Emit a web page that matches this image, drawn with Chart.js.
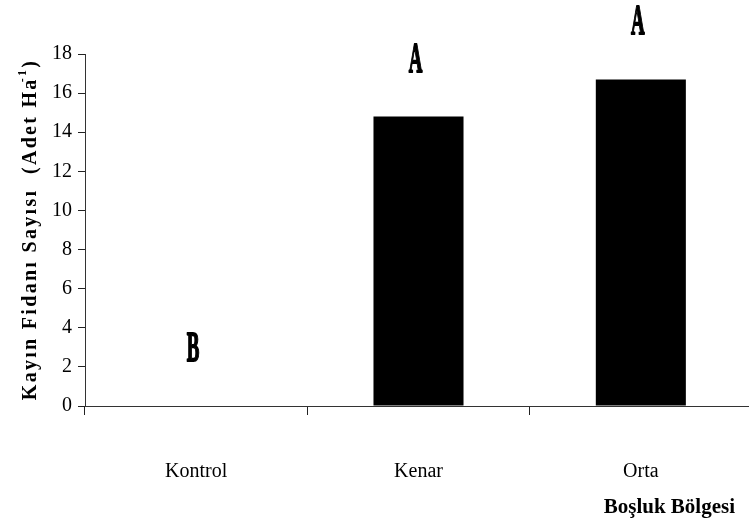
<!DOCTYPE html>
<html>
<head>
<meta charset="utf-8">
<script src="https://cdn.jsdelivr.net/npm/chart.js@4/dist/chart.umd.min.js"></script>
<style>
  html, body { margin: 0; padding: 0; background: #fff; overflow: hidden; }
  #wrap { position: relative; width: 752px; height: 521px; }
</style>
</head>
<body>
<div id="wrap"><canvas id="chart"></canvas></div>
<script>
// chart data
const categories = ['Kontrol', 'Kenar', 'Orta'];
const seedlings = [0, 14.8, 16.7];
const groupLetters = ['B', 'A', 'A'];
const yTicks = [0, 2, 4, 6, 8, 10, 12, 14, 16, 18];

const yTitleMain = 'Kayın Fidanı Sayısı  (Adet Ha';
const yTitleSup = '-1';
const yTitleEnd = ')';
const xTitle = 'Boşluk Bölgesi';

const serif = '"Liberation Serif", "Times New Roman", serif';

// draws the letters above the bars and both axis titles
const extraText = {
  id: 'extraText',
  afterDatasetsDraw(chart) {
    const ctx = chart.ctx;
    const meta = chart.getDatasetMeta(0);

    // significance letters, condensed and heavy
    ctx.save();
    ctx.fillStyle = '#000';
    ctx.strokeStyle = '#000';
    ctx.lineWidth = 1.8;
    ctx.lineJoin = 'round';
    ctx.font = 'bold 42px ' + serif;
    ctx.textAlign = 'center';
    ctx.textBaseline = 'alphabetic';
    meta.data.forEach((bar, i) => {
      ctx.save();
      ctx.translate(bar.x - 3, bar.y - 45);
      ctx.scale(0.45, 1);
      ctx.fillText(groupLetters[i], 0, 0);
      ctx.strokeText(groupLetters[i], 0, 0);
      ctx.restore();
    });
    ctx.restore();

    // y title, rotated and spaced out
    ctx.save();
    ctx.fillStyle = '#000';
    ctx.font = 'bold 20px ' + serif;
    ctx.letterSpacing = '2.3px';
    ctx.textBaseline = 'middle';
    ctx.textAlign = 'left';
    const w1 = ctx.measureText(yTitleMain).width;
    ctx.font = 'bold 12px ' + serif;
    const w2 = ctx.measureText(yTitleSup).width;
    ctx.font = 'bold 20px ' + serif;
    const w3 = ctx.measureText(yTitleEnd).width;
    const total = w1 + w2 + w3;
    ctx.translate(31, 227);
    ctx.rotate(-Math.PI / 2);
    let x = -total / 2;
    ctx.fillText(yTitleMain, x, 0);
    x += w1;
    ctx.font = 'bold 12px ' + serif;
    ctx.fillText(yTitleSup, x - 5, -8);
    x += w2;
    ctx.font = 'bold 20px ' + serif;
    ctx.fillText(yTitleEnd, x - 5, 0);
    ctx.restore();

    // x title at bottom right
    ctx.save();
    ctx.fillStyle = '#000';
    ctx.font = 'bold 21px ' + serif;
    ctx.textAlign = 'right';
    ctx.textBaseline = 'middle';
    ctx.fillText(xTitle, 735, 508);
    ctx.restore();
  }
};

new Chart(document.getElementById('chart'), {
  type: 'bar',
  data: {
    labels: categories,
    datasets: [{
      data: seedlings,
      backgroundColor: '#000',
      borderWidth: 0,
      barPercentage: 0.5,
      categoryPercentage: 0.81
    }]
  },
  options: {
    responsive: true,
    maintainAspectRatio: false,
    animation: false,
    layout: { padding: { top: 54, right: 0, left: 0, bottom: 0 } },
    plugins: {
      legend: { display: false },
      tooltip: { enabled: false }
    },
    scales: {
      x: {
        afterFit(s) { s.height = 115; },
        grid: {
          offset: true,
          drawOnChartArea: false,
          drawTicks: true,
          tickLength: 9,
          color: '#222'
        },
        border: { color: '#333', width: 1 },
        ticks: {
          color: '#000',
          padding: 45,
          font: { family: serif, size: 20 }
        }
      },
      y: {
        min: 0,
        max: 18,
        afterFit(s) { s.width = 85; },
        afterBuildTicks(s) { s.ticks = yTicks.map(v => ({ value: v })); },
        grid: {
          drawOnChartArea: false,
          drawTicks: true,
          tickLength: 7,
          color: '#222'
        },
        border: { color: '#333', width: 1 },
        ticks: {
          color: '#000',
          padding: 6,
          font: { family: serif, size: 20 }
        }
      }
    }
  },
  plugins: [extraText]
});
</script>
</body>
</html>
